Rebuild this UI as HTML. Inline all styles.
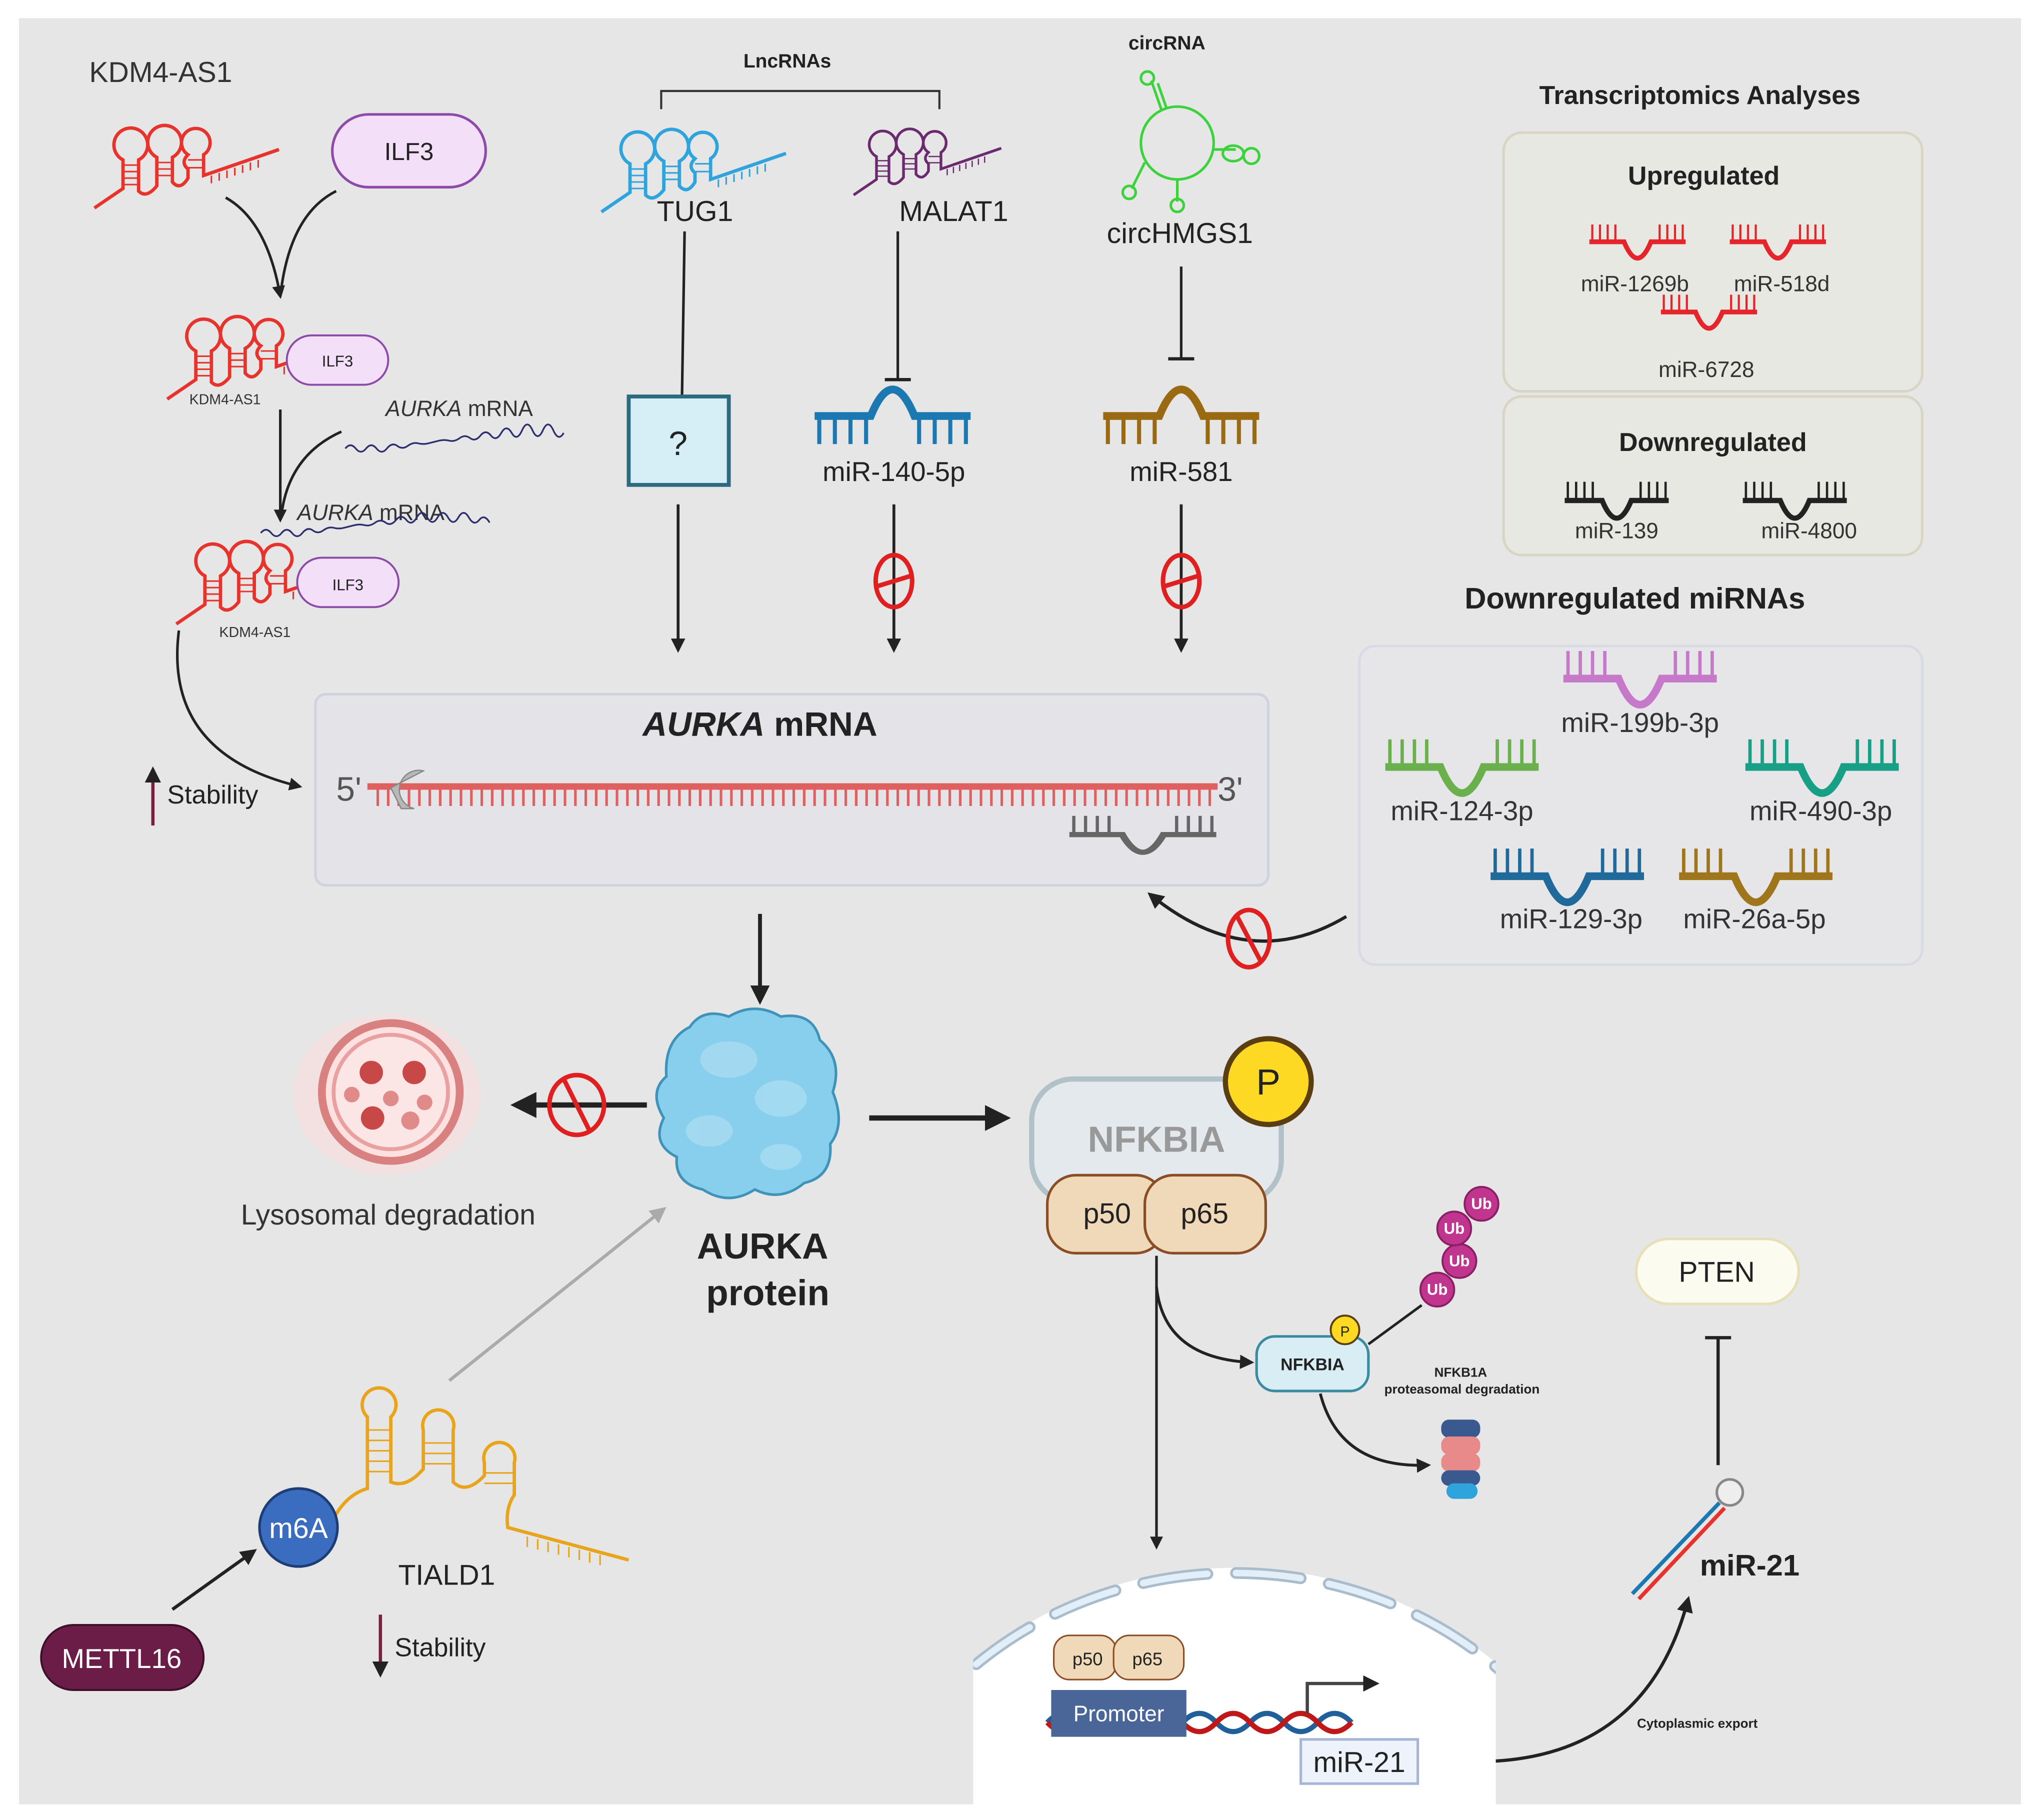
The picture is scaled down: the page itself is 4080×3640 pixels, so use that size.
<!DOCTYPE html>
<html><head><meta charset="utf-8"><style>
html,body{margin:0;padding:0;background:#fff;width:4080px;height:3640px;overflow:hidden}
svg{display:block}
text{font-family:"Liberation Sans",sans-serif}
</style></head><body>
<svg width="4080" height="3640" viewBox="0 0 1568 1400" xmlns="http://www.w3.org/2000/svg">
<defs>
<marker id="ah" viewBox="0 0 10 10" refX="8" refY="5" markerWidth="5" markerHeight="5" orient="auto"><path d="M0,0 L10,5 L0,10 z" fill="#222"/></marker>
<marker id="ahg" viewBox="0 0 10 10" refX="8" refY="5" markerWidth="5" markerHeight="5" orient="auto"><path d="M0,0 L10,5 L0,10 z" fill="#aaa"/></marker>
<symbol id="mu" overflow="visible">
<g fill="none" stroke-width="5"><path d="M0,0 H36 Q50,34 64,0 H100"/></g>
<g fill="none" stroke-width="2.2"><path d="M3,0 V-18 M11,0 V-18 M19,0 V-18 M27,0 V-18 M73,0 V-18 M81,0 V-18 M89,0 V-18 M97,0 V-18"/></g>
</symbol>
<symbol id="md" overflow="visible">
<g fill="none" stroke-width="5"><path d="M0,0 H36 Q50,-34 64,0 H100"/></g>
<g fill="none" stroke-width="2.6"><path d="M3,0 V18 M13,0 V18 M23,0 V18 M33,0 V18 M67,0 V18 M77,0 V18 M87,0 V18 M97,0 V18"/></g>
</symbol>
<symbol id="hp" overflow="visible">
<g fill="none" stroke-width="2.6">
<path d="M0,75 L22,60 V38 A13,13 0 1 1 34,38 V62 Q40,68 48,58 V36 A13,13 0 1 1 60,36 V55 Q66,62 72,52 V45 Q66,40 72,34 A11,11 0 1 1 84,34 V50 L142,30"/>
</g>
<g fill="none" stroke-width="1.2">
<path d="M22,42 H34 M22,47 H34 M22,52 H34 M22,57 H34 M48,40 H60 M48,45 H60 M48,50 H60 M72,38 H84 M72,44 H84 M90,50 v6 M96,48 v6 M102,46 v6 M108,44 v6 M114,42 v6 M120,40 v6 M126,38 v6"/>
</g>
</symbol>
<clipPath id="nuc"><rect x="748" y="1150" width="402" height="250"/></clipPath>
</defs>

<rect width="1568" height="1400" fill="#fff"/>
<rect x="14" y="14" width="1540" height="1374" fill="#e6e6e6"/>

<text x="68" y="63" font-size="22" fill="#333">KDM4-AS1</text>
<use href="#hp" x="72" y="85" stroke="#e8322c"/>
<rect x="255" y="88" width="118" height="56" rx="28" fill="#f3dff7" stroke="#8e4aa8" stroke-width="2"/>
<text x="314" y="123" font-size="19" text-anchor="middle" fill="#222">ILF3</text>
<path d="M173,152 Q205,170 215,228" fill="none" stroke="#222" stroke-width="2" marker-end="url(#ah)"/>
<path d="M258,147 Q222,165 215,228" fill="none" stroke="#222" stroke-width="2"/>

<use href="#hp" x="128" y="232" stroke="#e8322c"/>
<rect x="220" y="258" width="78" height="38" rx="19" fill="#f3dff7" stroke="#8e4aa8" stroke-width="1.5"/>
<text x="259" y="282" font-size="12" text-anchor="middle" fill="#222">ILF3</text>
<text x="145" y="311" font-size="11" fill="#333">KDM4-AS1</text>
<text x="296" y="320" font-size="17" fill="#333"><tspan font-style="italic">AURKA</tspan> mRNA</text>
<path d="M265,345 q4,-5 8,0 t8,0 t8,0 t8,0 t8,-2 t8,0 t8,-2 t8,0 t8,-2 t8,0 t8,-2 t8,0 t8,-2 t8,0 t8,-2 t8,0 t8,-2 t8,0 t8,0 t8,0 t8,2" fill="none" stroke="#2b2d6e" stroke-width="1.3"/>
<line x1="215" y1="315" x2="215" y2="400" stroke="#222" stroke-width="2" marker-end="url(#ah)"/>
<path d="M262,332 Q222,350 216,395" fill="none" stroke="#222" stroke-width="2"/>
<text x="228" y="400" font-size="17" fill="#333"><tspan font-style="italic">AURKA</tspan> mRNA</text>
<path d="M200,410 q4,-5 8,0 t8,0 t8,0 t8,0 t8,-2 t8,0 t8,-2 t8,0 t8,-2 t8,0 t8,-2 t8,0 t8,-2 t8,0 t8,-2 t8,0 t8,0 t8,0 t8,0 t8,0 t8,2 t8,2" fill="none" stroke="#2b2d6e" stroke-width="1.3"/>
<use href="#hp" x="135" y="405" stroke="#e8322c"/>
<rect x="228" y="429" width="78" height="38" rx="19" fill="#f3dff7" stroke="#8e4aa8" stroke-width="1.5"/>
<text x="267" y="454" font-size="12" text-anchor="middle" fill="#222">ILF3</text>
<text x="168" y="490" font-size="11" fill="#333">KDM4-AS1</text>
<path d="M137,485 Q125,580 230,605" fill="none" stroke="#222" stroke-width="2" marker-end="url(#ah)"/>
<line x1="117" y1="635" x2="117" y2="592" stroke="#7a1f3d" stroke-width="2.5" marker-end="url(#ah)"/>
<text x="128" y="618" font-size="20" fill="#222">Stability</text>

<text x="605" y="52" font-size="15" font-weight="bold" text-anchor="middle" fill="#222">LncRNAs</text>
<path d="M508,84 V70 H722 V84" fill="none" stroke="#333" stroke-width="1.6"/>
<use href="#hp" x="462" y="88" stroke="#2fa3dc"/>
<text x="534" y="170" font-size="22" text-anchor="middle" fill="#222">TUG1</text>
<use href="#hp" x="656" y="90" stroke="#6b2a6e" transform="translate(656,90) scale(0.8) translate(-656,-90)"/>
<text x="733" y="170" font-size="22" text-anchor="middle" fill="#222">MALAT1</text>
<line x1="526" y1="178" x2="524" y2="305" stroke="#222" stroke-width="2"/>
<rect x="483" y="305" width="77" height="68" fill="#d6eef5" stroke="#2e6a7f" stroke-width="3"/>
<text x="521" y="350" font-size="26" text-anchor="middle" fill="#222">?</text>
<line x1="521" y1="388" x2="521" y2="500" stroke="#222" stroke-width="2.2" marker-end="url(#ah)"/>
<line x1="690" y1="178" x2="690" y2="291" stroke="#222" stroke-width="2"/>
<line x1="680" y1="292" x2="700" y2="292" stroke="#222" stroke-width="2.5"/>
<use href="#md" x="626" y="320" stroke="#1c78b0" transform="translate(626,320) scale(1.2) translate(-626,-320)"/>
<text x="687" y="370" font-size="21" text-anchor="middle" fill="#222">miR-140-5p</text>
<line x1="687" y1="388" x2="687" y2="500" stroke="#222" stroke-width="2.2" marker-end="url(#ah)"/>
<g fill="none" stroke="#e02020" stroke-width="3.5"><ellipse cx="687" cy="447" rx="14" ry="20"/><line x1="674" y1="451" x2="700" y2="443"/></g>

<text x="897" y="38" font-size="15" font-weight="bold" text-anchor="middle" fill="#222">circRNA</text>
<g fill="none" stroke="#3bd23b" stroke-width="2">
<circle cx="905" cy="110" r="28"/>
<path d="M893,85 L885,62 M897,84 L890,64"/><circle cx="882" cy="60" r="5"/>
<path d="M880,125 L870,145"/><circle cx="868" cy="148" r="5"/>
<path d="M905,138 V155"/><circle cx="905" cy="158" r="5"/>
<path d="M932,115 H950"/><ellipse cx="948" cy="118" rx="8" ry="6"/><circle cx="962" cy="120" r="6"/>
</g>
<text x="907" y="187" font-size="22" text-anchor="middle" fill="#222">circHMGS1</text>
<line x1="908" y1="205" x2="908" y2="275" stroke="#222" stroke-width="2"/>
<line x1="898" y1="276" x2="918" y2="276" stroke="#222" stroke-width="2.5"/>
<use href="#md" x="848" y="320" stroke="#9a6a12" transform="translate(848,320) scale(1.2) translate(-848,-320)"/>
<text x="908" y="370" font-size="21" text-anchor="middle" fill="#222">miR-581</text>
<line x1="908" y1="388" x2="908" y2="500" stroke="#222" stroke-width="2.2" marker-end="url(#ah)"/>
<g fill="none" stroke="#e02020" stroke-width="3.5"><ellipse cx="908" cy="447" rx="14" ry="20"/><line x1="895" y1="451" x2="921" y2="443"/></g>

<text x="1307" y="80" font-size="20" font-weight="bold" text-anchor="middle" fill="#222">Transcriptomics Analyses</text>
<rect x="1156" y="102" width="322" height="199" rx="14" fill="#e8e8e2" stroke="#d8d5c4" stroke-width="2"/>
<text x="1310" y="142" font-size="20" font-weight="bold" text-anchor="middle" fill="#222">Upregulated</text>
<use href="#mu" x="1222" y="186" stroke="#e5242b" transform="translate(1222,186) scale(0.74) translate(-1222,-186)"/>
<use href="#mu" x="1330" y="186" stroke="#e5242b" transform="translate(1330,186) scale(0.74) translate(-1330,-186)"/>
<use href="#mu" x="1277" y="240" stroke="#e5242b" transform="translate(1277,240) scale(0.74) translate(-1277,-240)"/>
<text x="1257" y="224" font-size="17" text-anchor="middle" fill="#333">miR-1269b</text>
<text x="1370" y="224" font-size="17" text-anchor="middle" fill="#333">miR-518d</text>
<text x="1312" y="290" font-size="17" text-anchor="middle" fill="#333">miR-6728</text>
<rect x="1156" y="305" width="322" height="122" rx="14" fill="#e8e8e2" stroke="#d8d5c4" stroke-width="2"/>
<text x="1317" y="347" font-size="20" font-weight="bold" text-anchor="middle" fill="#222">Downregulated</text>
<use href="#mu" x="1203" y="385" stroke="#222" transform="translate(1203,385) scale(0.8) translate(-1203,-385)"/>
<use href="#mu" x="1340" y="385" stroke="#222" transform="translate(1340,385) scale(0.8) translate(-1340,-385)"/>
<text x="1243" y="414" font-size="17" text-anchor="middle" fill="#333">miR-139</text>
<text x="1391" y="414" font-size="17" text-anchor="middle" fill="#333">miR-4800</text>

<text x="1257" y="468" font-size="23" font-weight="bold" text-anchor="middle" fill="#222">Downregulated miRNAs</text>
<rect x="1045" y="497" width="433" height="245" rx="12" fill="#e6e6e8" stroke="#d8dbe6" stroke-width="2"/>
<use href="#mu" x="1202" y="522" stroke="#c679c9" transform="translate(1202,522) scale(1.18) translate(-1202,-522)"/>
<text x="1261" y="563" font-size="21" text-anchor="middle" fill="#333">miR-199b-3p</text>
<use href="#mu" x="1065" y="590" stroke="#6ab04c" transform="translate(1065,590) scale(1.18) translate(-1065,-590)"/>
<text x="1124" y="631" font-size="21" text-anchor="middle" fill="#333">miR-124-3p</text>
<use href="#mu" x="1342" y="590" stroke="#17a085" transform="translate(1342,590) scale(1.18) translate(-1342,-590)"/>
<text x="1400" y="631" font-size="21" text-anchor="middle" fill="#333">miR-490-3p</text>
<use href="#mu" x="1146" y="674" stroke="#1f6a9a" transform="translate(1146,674) scale(1.18) translate(-1146,-674)"/>
<text x="1208" y="714" font-size="21" text-anchor="middle" fill="#333">miR-129-3p</text>
<use href="#mu" x="1291" y="674" stroke="#a0761c" transform="translate(1291,674) scale(1.18) translate(-1291,-674)"/>
<text x="1349" y="714" font-size="21" text-anchor="middle" fill="#333">miR-26a-5p</text>
<path d="M1035,705 Q960,750 884,688" fill="none" stroke="#222" stroke-width="2.5" marker-end="url(#ah)"/>
<g fill="none" stroke="#e02020" stroke-width="3.5"><ellipse cx="960" cy="722" rx="16" ry="22"/><line x1="950" y1="703" x2="970" y2="741"/></g>

<rect x="242" y="534" width="733" height="147" rx="8" fill="#e4e4e8" stroke="#cfd3e0" stroke-width="2"/>
<text x="584" y="566" font-size="26" font-weight="bold" text-anchor="middle" fill="#222"><tspan font-style="italic">AURKA</tspan> mRNA</text>
<text x="258" y="616" font-size="26" fill="#555">5'</text>
<text x="936" y="616" font-size="26" fill="#555">3'</text>
<line x1="282" y1="605" x2="936" y2="605" stroke="#e06060" stroke-width="5"/>
<path d="M290,606 V620 M298,606 V620 M306,606 V620 M314,606 V620 M322,606 V620 M330,606 V620 M338,606 V620 M346,606 V620 M354,606 V620 M362,606 V620 M370,606 V620 M378,606 V620 M386,606 V620 M394,606 V620 M402,606 V620 M410,606 V620 M418,606 V620 M426,606 V620 M434,606 V620 M442,606 V620 M450,606 V620 M458,606 V620 M466,606 V620 M474,606 V620 M482,606 V620 M490,606 V620 M498,606 V620 M506,606 V620 M514,606 V620 M522,606 V620 M530,606 V620 M538,606 V620 M546,606 V620 M554,606 V620 M562,606 V620 M570,606 V620 M578,606 V620 M586,606 V620 M594,606 V620 M602,606 V620 M610,606 V620 M618,606 V620 M626,606 V620 M634,606 V620 M642,606 V620 M650,606 V620 M658,606 V620 M666,606 V620 M674,606 V620 M682,606 V620 M690,606 V620 M698,606 V620 M706,606 V620 M714,606 V620 M722,606 V620 M730,606 V620 M738,606 V620 M746,606 V620 M754,606 V620 M762,606 V620 M770,606 V620 M778,606 V620 M786,606 V620 M794,606 V620 M802,606 V620 M810,606 V620 M818,606 V620 M826,606 V620 M834,606 V620 M842,606 V620 M850,606 V620 M858,606 V620 M866,606 V620 M874,606 V620 M882,606 V620 M890,606 V620 M898,606 V620 M906,606 V620 M914,606 V620 M922,606 V620 M930,606 V620" stroke="#e06060" stroke-width="2"/>
<path d="M325,593 A14,14 0 1 0 318,622 L308,622 L300,606 Z" fill="#b8b8b8" stroke="#888" stroke-width="1"/>
<use href="#mu" x="822" y="642" stroke="#666" transform="translate(822,642) scale(1.13,0.8) translate(-822,-642)"/>

<line x1="584" y1="703" x2="584" y2="770" stroke="#222" stroke-width="3" marker-end="url(#ah)"/>
<path d="M530,790 Q540,775 560,782 Q580,770 600,782 Q625,778 630,800 Q648,815 640,840 Q650,865 638,880 Q640,905 618,910 Q600,925 580,915 Q560,928 540,915 Q518,910 520,890 Q500,880 510,860 Q498,840 512,828 Q510,800 530,790 Z" fill="#87cfec" stroke="#3f92b8" stroke-width="2"/>
<g fill="#a9dcf2" opacity="0.8"><ellipse cx="560" cy="815" rx="22" ry="14"/><ellipse cx="600" cy="845" rx="20" ry="14"/><ellipse cx="545" cy="870" rx="18" ry="12"/><ellipse cx="600" cy="890" rx="16" ry="10"/></g>
<text x="586" y="968" font-size="28" font-weight="bold" text-anchor="middle" fill="#222">AURKA</text>
<text x="590" y="1004" font-size="28" font-weight="bold" text-anchor="middle" fill="#222">protein</text>
<line x1="497" y1="850" x2="396" y2="850" stroke="#222" stroke-width="4" marker-end="url(#ah)"/>
<g fill="none" stroke="#e02020" stroke-width="3.5"><ellipse cx="443" cy="850" rx="21" ry="23"/><line x1="433" y1="830" x2="453" y2="870"/></g>
<ellipse cx="297" cy="842" rx="72" ry="62" fill="#f6dede" opacity="0.8"/>
<circle cx="300" cy="840" r="53" fill="#fde0e0" stroke="#d98080" stroke-width="6"/>
<circle cx="300" cy="840" r="44" fill="#fbe5e5" stroke="#e9a0a0" stroke-width="3"/>
<g fill="#c84848"><circle cx="285" cy="825" r="9"/><circle cx="318" cy="825" r="9"/><circle cx="286" cy="860" r="9"/></g>
<g fill="#e08a8a"><circle cx="270" cy="842" r="6"/><circle cx="300" cy="845" r="6"/><circle cx="326" cy="848" r="6"/><circle cx="315" cy="862" r="7"/></g>
<text x="298" y="942" font-size="22" text-anchor="middle" fill="#333">Lysosomal degradation</text>
<line x1="668" y1="860" x2="773" y2="860" stroke="#222" stroke-width="4" marker-end="url(#ah)"/>

<rect x="793" y="830" width="192" height="95" rx="32" fill="#e3e9ec" stroke="#b1c1c8" stroke-width="4"/>
<text x="889" y="886" font-size="28" font-weight="bold" text-anchor="middle" fill="#999">NFKBIA</text>
<circle cx="975" cy="832" r="33" fill="#fdd923" stroke="#5a3d10" stroke-width="4"/>
<text x="975" y="842" font-size="28" text-anchor="middle" fill="#222">P</text>
<rect x="805" y="904" width="90" height="60" rx="22" fill="#efd9b8" stroke="#8a4d25" stroke-width="2"/>
<rect x="880" y="904" width="93" height="60" rx="22" fill="#efd9b8" stroke="#8a4d25" stroke-width="2"/>
<text x="851" y="941" font-size="22" text-anchor="middle" fill="#222">p50</text>
<text x="926" y="941" font-size="22" text-anchor="middle" fill="#222">p65</text>
<line x1="889" y1="966" x2="889" y2="1190" stroke="#222" stroke-width="2" marker-end="url(#ah)"/>
<path d="M889,990 Q895,1045 962,1048" fill="none" stroke="#222" stroke-width="2.2" marker-end="url(#ah)"/>
<rect x="966" y="1028" width="86" height="42" rx="14" fill="#d9eef4" stroke="#3a8aa0" stroke-width="2"/>
<text x="1009" y="1054" font-size="13" font-weight="bold" text-anchor="middle" fill="#222">NFKBIA</text>
<circle cx="1034" cy="1023" r="11" fill="#fdd923" stroke="#5a3d10" stroke-width="1.5"/>
<text x="1034" y="1028" font-size="11" text-anchor="middle" fill="#222">P</text>
<line x1="1052" y1="1034" x2="1093" y2="1004" stroke="#222" stroke-width="2"/>
<g fill="#c0368f" stroke="#8a1f66" stroke-width="1.5">
<circle cx="1105" cy="992" r="13"/><circle cx="1122" cy="970" r="13"/><circle cx="1118" cy="945" r="13"/><circle cx="1139" cy="926" r="13"/></g>
<g font-size="12" font-weight="bold" fill="#fff" text-anchor="middle">
<text x="1105" y="996">Ub</text><text x="1122" y="974">Ub</text><text x="1118" y="949">Ub</text><text x="1139" y="930">Ub</text></g>
<text x="1123" y="1059" font-size="10" font-weight="bold" text-anchor="middle" fill="#222">NFKB1A</text>
<text x="1124" y="1072" font-size="10" font-weight="bold" text-anchor="middle" fill="#222">proteasomal degradation</text>
<path d="M1015,1072 Q1030,1130 1098,1127" fill="none" stroke="#222" stroke-width="2.2" marker-end="url(#ah)"/>
<g>
<rect x="1108" y="1092" width="30" height="14" rx="6" fill="#3a5a8f"/>
<rect x="1108" y="1105" width="30" height="14" rx="6" fill="#e88a8a"/>
<rect x="1108" y="1118" width="30" height="14" rx="6" fill="#e88a8a"/>
<rect x="1108" y="1131" width="30" height="12" rx="6" fill="#3a5a8f"/>
<rect x="1112" y="1141" width="24" height="12" rx="6" fill="#2fa3dc"/>
</g>

<rect x="1258" y="953" width="125" height="50" rx="25" fill="#fcfbef" stroke="#e6dfb8" stroke-width="2"/>
<text x="1320" y="986" font-size="22" text-anchor="middle" fill="#222">PTEN</text>
<line x1="1321" y1="1127" x2="1321" y2="1030" stroke="#222" stroke-width="2.5"/>
<line x1="1311" y1="1029" x2="1331" y2="1029" stroke="#222" stroke-width="2.5"/>
<line x1="1255" y1="1226" x2="1322" y2="1156" stroke="#1c78b0" stroke-width="3"/>
<line x1="1260" y1="1230" x2="1326" y2="1160" stroke="#e8322c" stroke-width="3"/>
<circle cx="1330" cy="1148" r="10" fill="#eee" stroke="#888" stroke-width="2"/>
<text x="1307" y="1212" font-size="23" font-weight="bold" fill="#222">miR-21</text>
<path d="M1090,1352 Q1260,1375 1298,1230" fill="none" stroke="#222" stroke-width="2.5" marker-end="url(#ah)"/>
<text x="1305" y="1329" font-size="10" font-weight="bold" text-anchor="middle" fill="#222">Cytoplasmic export</text>

<g clip-path="url(#nuc)">
<ellipse cx="949" cy="1490" rx="300" ry="284" fill="#fff"/>
<ellipse cx="949" cy="1490" rx="300" ry="280" fill="none" stroke="#a9bccb" stroke-width="9" stroke-dasharray="50,22" stroke-linecap="round"/>
<ellipse cx="949" cy="1490" rx="300" ry="280" fill="none" stroke="#e2eff9" stroke-width="5" stroke-dasharray="50,22" stroke-linecap="round"/>
</g>
<rect x="748" y="1388" width="402" height="12" fill="#fff"/>
<rect x="810" y="1258" width="48" height="34" rx="12" fill="#efd9b8" stroke="#8a4d25" stroke-width="1.2"/>
<rect x="856" y="1258" width="54" height="34" rx="12" fill="#efd9b8" stroke="#8a4d25" stroke-width="1.2"/>
<text x="836" y="1281" font-size="14" text-anchor="middle" fill="#222">p50</text>
<text x="882" y="1281" font-size="14" text-anchor="middle" fill="#222">p65</text>
<path d="M805,1325 q13,-14 26,0 t26,0 t26,0 t26,0 t26,0 t26,0 t26,0 t26,0 t26,0" fill="none" stroke="#1f5f9a" stroke-width="4"/>
<path d="M805,1325 q13,14 26,0 t26,0 t26,0 t26,0 t26,0 t26,0 t26,0 t26,0 t26,0" fill="none" stroke="#c01818" stroke-width="4"/>
<rect x="808" y="1300" width="104" height="36" fill="#4a6698"/>
<text x="860" y="1324" font-size="17" text-anchor="middle" fill="#fff">Promoter</text>
<path d="M1005,1318 V1295 H1058" fill="none" stroke="#444" stroke-width="2.5" marker-end="url(#ah)"/>
<rect x="1000" y="1338" width="90" height="34" fill="#eef3fb" stroke="#a7b6d6" stroke-width="2"/>
<text x="1045" y="1363" font-size="22" text-anchor="middle" fill="#222">miR-21</text>

<line x1="345" y1="1062" x2="510" y2="930" stroke="#aaa" stroke-width="2.5" marker-end="url(#ahg)"/>
<g fill="none" stroke="#e8a41a" stroke-width="2.6">
<path d="M255,1170 Q265,1150 282,1145 V1090 A13,13 0 1 1 300,1090 V1140 Q312,1145 325,1130 V1100 A12,12 0 1 1 348,1100 V1140 Q358,1150 372,1135 V1125 A12,12 0 1 1 395,1125 V1150 Q388,1160 390,1175 L483,1200"/>
</g>
<g fill="none" stroke="#e8a41a" stroke-width="1.2">
<path d="M282,1100 H300 M282,1108 H300 M282,1116 H300 M282,1124 H300 M282,1132 H300 M325,1110 H348 M325,1118 H348 M325,1126 H348 M372,1133 H395 M372,1141 H395 M405,1182 v8 M413,1184 v8 M421,1186 v8 M429,1188 v8 M437,1190 v8 M445,1192 v8 M453,1194 v8 M461,1196 v8"/>
</g>
<text x="343" y="1219" font-size="22" text-anchor="middle" fill="#222">TIALD1</text>
<circle cx="229" cy="1175" r="30" fill="#3a6dbf" stroke="#1f3d75" stroke-width="2"/>
<text x="229" y="1183" font-size="22" text-anchor="middle" fill="#fff">m6A</text>
<line x1="132" y1="1238" x2="195" y2="1193" stroke="#222" stroke-width="2.5" marker-end="url(#ah)"/>
<rect x="31" y="1250" width="125" height="50" rx="25" fill="#6b1d47" stroke="#3d0f28" stroke-width="1.5"/>
<text x="93" y="1283" font-size="21" text-anchor="middle" fill="#fff">METTL16</text>
<line x1="292" y1="1242" x2="292" y2="1288" stroke="#7a1f3d" stroke-width="2.5" marker-end="url(#ah)"/>
<text x="303" y="1274" font-size="20" fill="#222">Stability</text>
</svg>
</body></html>
